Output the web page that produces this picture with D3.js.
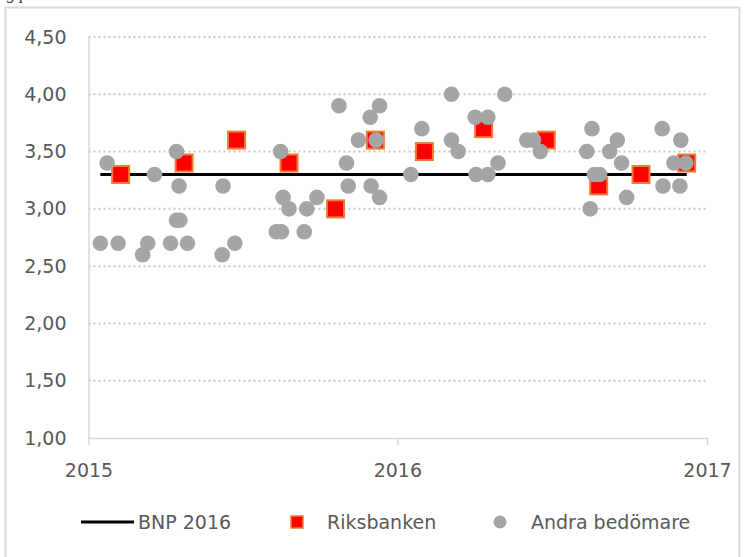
<!DOCTYPE html>
<html>
<head>
<meta charset="utf-8">
<script src="https://cdn.jsdelivr.net/npm/d3@7"></script>
<style>
  body { margin: 0; background: #fff; }
  svg { display: block; }
  .axis text { font-family: "DejaVu Sans", sans-serif; font-size: 19px; fill: #595959; }
  .legend text { font-family: "DejaVu Sans", sans-serif; font-size: 19px; fill: #595959; }
</style>
</head>
<body>
<div id="chart"></div>
<script>
// BNP 2016 forecast line (start and end of the series)
const bnpDates = ["2015-01-15", "2016-12-08"];
const bnpValue = 3.3;

// Riksbanken forecasts
const riksDates = ["2015-02-08", "2015-04-24", "2015-06-25", "2015-08-26", "2015-10-20", "2015-12-06",
  "2016-02-02", "2016-04-12", "2016-06-25", "2016-08-26", "2016-10-15", "2016-12-08"];
const riksValues = [3.3, 3.4, 3.6, 3.4, 3.0, 3.6, 3.5, 3.7, 3.6, 3.2, 3.3, 3.4];

// Andra bedömare
const otherDates = ["2015-01-15", "2015-01-23", "2015-02-05", "2015-03-06", "2015-03-12", "2015-03-20",
  "2015-04-08", "2015-04-15", "2015-04-18", "2015-04-15", "2015-04-19", "2015-04-28",
  "2015-06-09", "2015-06-08", "2015-06-23", "2015-08-16", "2015-08-19", "2015-08-26",
  "2015-08-11", "2015-08-17", "2015-09-16", "2015-09-13", "2015-09-28", "2015-10-24",
  "2015-11-02", "2015-11-04", "2015-11-16", "2015-11-30", "2015-12-11", "2015-12-07",
  "2015-12-01", "2015-12-11", "2016-01-17", "2016-01-30", "2016-03-05", "2016-03-05",
  "2016-03-13", "2016-04-02", "2016-04-17", "2016-04-03", "2016-04-17", "2016-04-29",
  "2016-05-07", "2016-06-02", "2016-06-10", "2016-06-18", "2016-08-18", "2016-08-12",
  "2016-08-16", "2016-08-21", "2016-08-27", "2016-09-17", "2016-09-08", "2016-09-22",
  "2016-09-28", "2016-11-09", "2016-12-01", "2016-11-10", "2016-11-30", "2016-11-23",
  "2016-12-07"];
const otherValues = [2.7, 3.4, 2.7, 2.6, 2.7, 3.3,
  2.7, 3.5, 3.2, 2.9, 2.9, 2.7,
  3.2, 2.6, 2.7, 3.5, 3.1, 3.0,
  2.8, 2.8, 3.0, 2.8, 3.1, 3.9,
  3.4, 3.2, 3.6, 3.8, 3.9, 3.6,
  3.2, 3.1, 3.3, 3.7, 4.0, 3.6,
  3.5, 3.8, 3.8, 3.3, 3.3, 3.4,
  4.0, 3.6, 3.6, 3.5, 3.7, 3.5,
  3.0, 3.3, 3.3, 3.6, 3.5, 3.4,
  3.1, 3.7, 3.6, 3.2, 3.2, 3.4,
  3.4];

const yTicks = [1.0, 1.5, 2.0, 2.5, 3.0, 3.5, 4.0, 4.5];
const xTicks = ["2015-01-01", "2016-01-01", "2017-01-01"];
const legendLabels = ["BNP 2016", "Riksbanken", "Andra bedömare"];

const W = 749, H = 557;
const margin = { top: 37, right: 42, bottom: 119, left: 88.5 };
const parse = d3.timeParse("%Y-%m-%d");

const svg = d3.select("#chart").append("svg")
  .attr("width", W)
  .attr("height", H);

// caption, cut off at the top edge like the source screenshot
svg.append("text")
  .attr("x", -62)
  .attr("y", -1.5)
  .style("font-family", "Liberation Serif, serif")
  .style("font-style", "italic")
  .style("font-size", "17px")
  .style("fill", "#333")
  .text("Bedömning på BNP-tillväxten 2016 av Riksbanken och andra bedömare");

// chart frame
svg.append("rect")
  .attr("x", 5.5)
  .attr("y", 7.5)
  .attr("width", 734)
  .attr("height", 570)
  .attr("fill", "none")
  .attr("stroke", "#d9d9d9")
  .attr("stroke-width", 2);

const x = d3.scaleTime()
  .domain([parse(xTicks[0]), parse(xTicks[2])])
  .range([margin.left, W - margin.right]);

const y = d3.scaleLinear()
  .domain([1, 4.5])
  .range([H - margin.bottom, margin.top]);

// gridlines
svg.append("g")
  .selectAll("line")
  .data(yTicks.slice(1))
  .enter()
  .append("line")
  .attr("x1", x.range()[0])
  .attr("x2", x.range()[1])
  .attr("y1", (d) => y(d))
  .attr("y2", (d) => y(d))
  .attr("stroke", "#c8c8c8")
  .attr("stroke-width", 2)
  .attr("stroke-dasharray", "2,3");

// y axis
const fmt = (d) => d3.format(".2f")(d).replace(".", ",");
const yAxis = svg.append("g")
  .attr("class", "axis")
  .attr("transform", `translate(${margin.left},0)`)
  .call(d3.axisLeft(y).tickValues(yTicks).tickFormat(fmt).tickSize(0).tickPadding(22));
yAxis.select(".domain").attr("stroke", "#d9d9d9").attr("stroke-width", 1.5);

// x axis
const xAxis = svg.append("g")
  .attr("class", "axis")
  .attr("transform", `translate(0,${y(1)})`)
  .call(d3.axisBottom(x).tickValues(xTicks.map(parse)).tickFormat(d3.timeFormat("%Y"))
    .tickSizeInner(7).tickSizeOuter(0).tickPadding(19));
xAxis.select(".domain").attr("stroke", "#d9d9d9").attr("stroke-width", 1.5);
xAxis.selectAll(".tick line").attr("stroke", "#d9d9d9").attr("stroke-width", 1.5);

// BNP 2016 line
svg.append("path")
  .datum(bnpDates.map((d) => ({ date: parse(d), value: bnpValue })))
  .attr("fill", "none")
  .attr("stroke", "#000")
  .attr("stroke-width", 3)
  .attr("d", d3.line().x((d) => x(d.date)).y((d) => y(d.value)));

// Riksbanken squares
const riks = riksDates.map((d, i) => ({ date: parse(d), value: riksValues[i] }));
const sq = 17;
svg.append("g")
  .selectAll("rect")
  .data(riks)
  .enter()
  .append("rect")
  .attr("x", (d) => x(d.date) - sq / 2)
  .attr("y", (d) => y(d.value) - sq / 2)
  .attr("width", sq)
  .attr("height", sq)
  .attr("fill", "#ff0000")
  .attr("stroke", "#ed7d31")
  .attr("stroke-width", 2);

// Andra bedömare dots
const others = otherDates.map((d, i) => ({ date: parse(d), value: otherValues[i] }));
svg.append("g")
  .selectAll("circle")
  .data(others)
  .enter()
  .append("circle")
  .attr("cx", (d) => x(d.date))
  .attr("cy", (d) => y(d.value))
  .attr("r", 7.8)
  .attr("fill", "#a5a5a5");

// legend
const legend = svg.append("g").attr("class", "legend").attr("transform", "translate(0,522)");
legend.append("line")
  .attr("x1", 81).attr("x2", 134)
  .attr("stroke", "#000").attr("stroke-width", 3);
legend.append("rect")
  .attr("x", 291).attr("y", -6).attr("width", 12).attr("height", 12)
  .attr("fill", "#ff0000").attr("stroke", "#ed7d31").attr("stroke-width", 1.5);
legend.append("circle")
  .attr("cx", 500).attr("r", 6.5)
  .attr("fill", "#a5a5a5");
const legendX = [138, 327, 531];
legend.selectAll("text")
  .data(legendLabels)
  .enter()
  .append("text")
  .attr("x", (d, i) => legendX[i])
  .attr("dy", "0.35em")
  .text((d) => d);
</script>
</body>
</html>
